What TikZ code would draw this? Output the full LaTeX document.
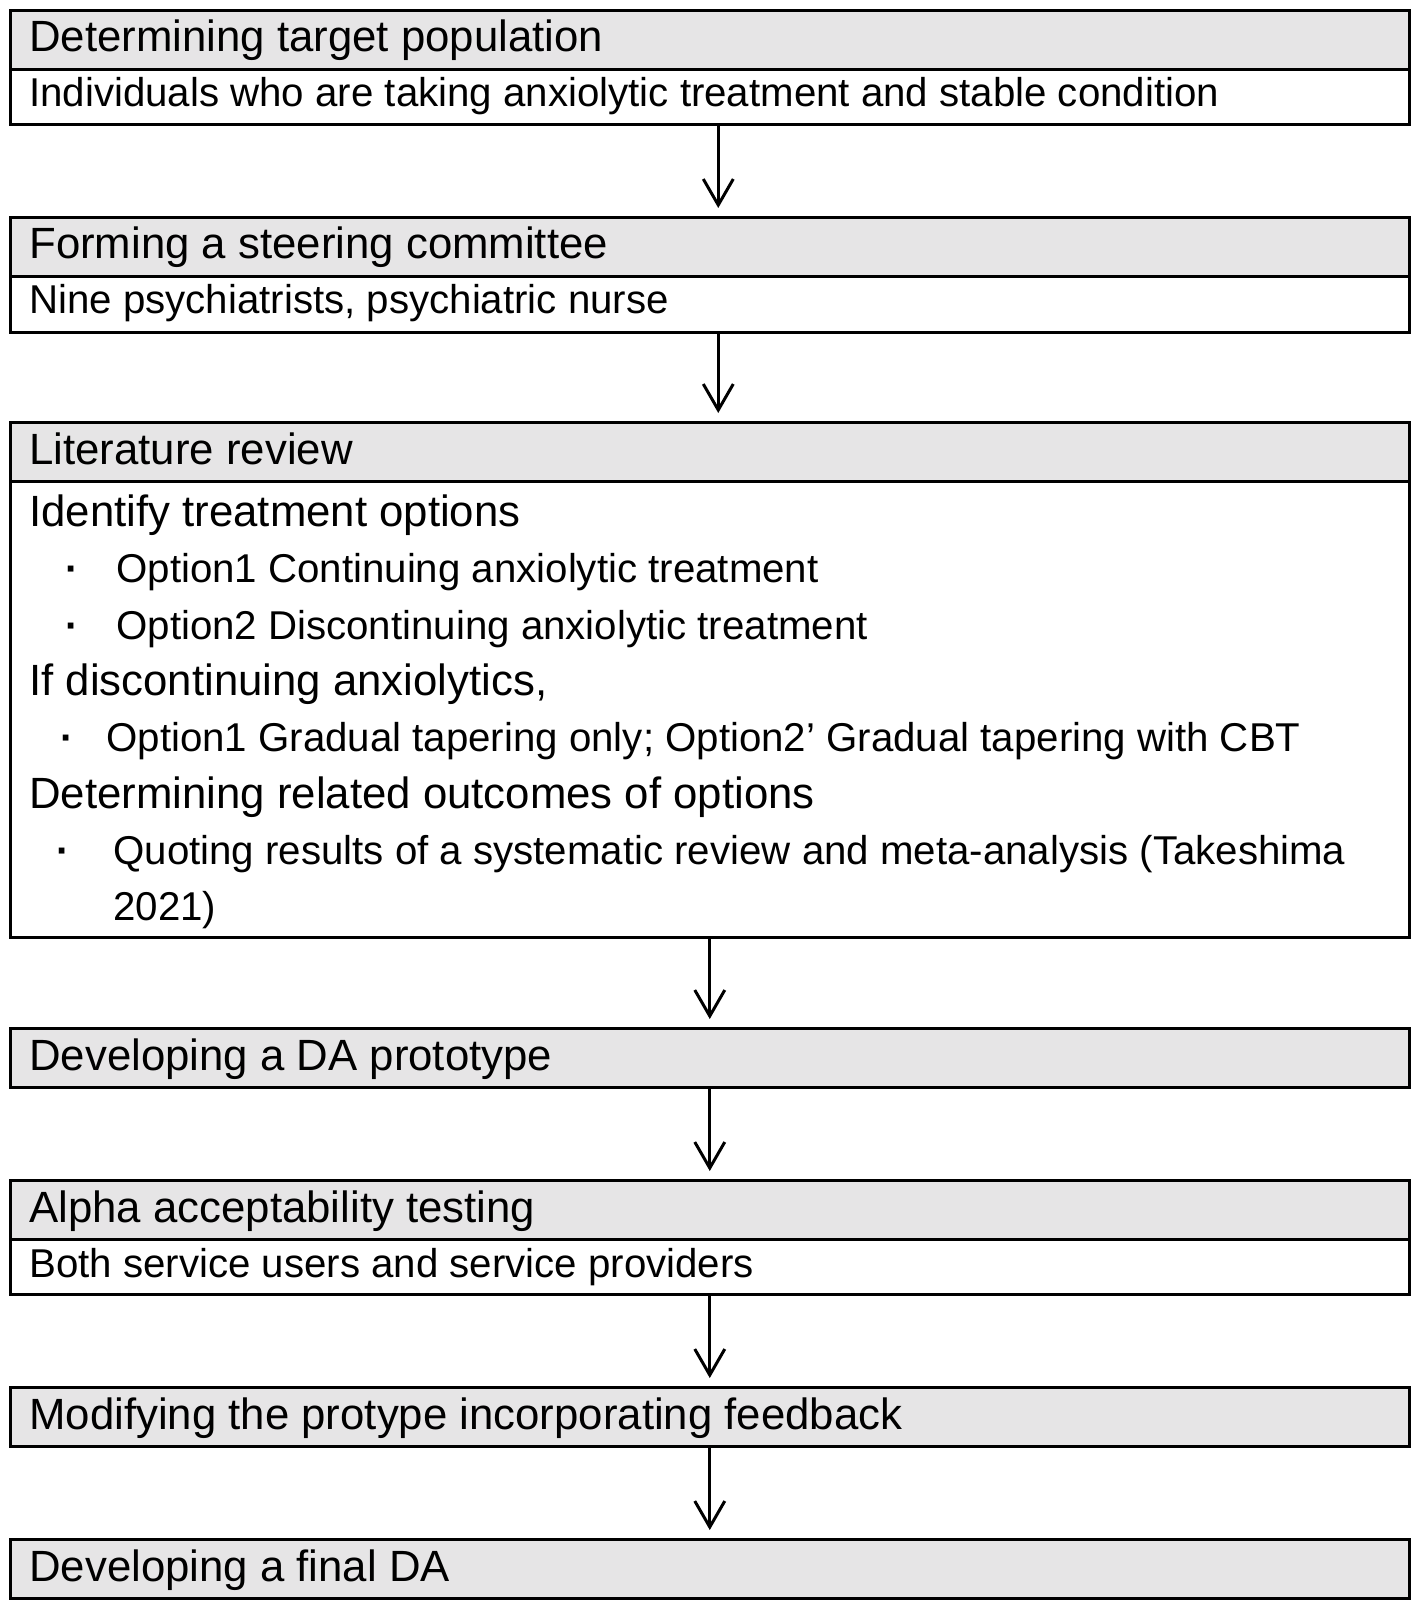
\documentclass[tikz,border=0pt]{standalone}
\usepackage{fontspec}
\setmainfont{Liberation Sans}
\usetikzlibrary{arrows.meta}
\definecolor{headgray}{RGB}{230,229,230}
\begin{document}
\begin{tikzpicture}[x=0.02cm,y=-0.02cm,
  head/.style={draw,line width=1.6pt,fill=headgray,anchor=north west,inner sep=0pt,minimum width=27.98cm,minimum height=1.18cm},
  body/.style={draw,line width=1.6pt,anchor=north west,inner sep=0pt,minimum width=27.98cm,minimum height=#1},
  body/.default=1.1cm,
  title/.style={anchor=base west,inner sep=0pt,font=\fontsize{24.9}{30}\selectfont},
  line/.style={anchor=base west,inner sep=0pt,font=\fontsize{22.9}{28}\selectfont},
  flow/.style={-{Straight Barb[length=0.52cm,width=0.6cm]},line width=1.7pt,shorten >=0.16cm}]
 \useasboundingbox (0,0) rectangle (1418,1611);
 % target population
 \node[head] (h1) at (9,9) {};
 \node[body] (b1) at (9,68) {};
 \node[title] (t1) at (29,52) {Determining target population};
 \node[line] (s1) at (29,107) {Individuals who are taking anxiolytic treatment and stable condition};
 % steering committee
 \node[head] (h2) at (9,216) {};
 \node[body=1.12cm] (b2) at (9,275) {};
 \node[title] (t2) at (29,259) {Forming a steering committee};
 \node[line] (s2) at (29,314) {Nine psychiatrists, psychiatric nurse};
 % literature review
 \node[head] (h3) at (9,421) {};
 \node[body=9.12cm] (b3) at (9,480) {};
 \node[title] (t3) at (29,464) {Literature review};
 \node[title] (l1) at (29,526) {Identify treatment options};
 \node[line] (d1) at (65,582) {\textbf{·}};
 \node[line] (o1) at (116,582) {Option1 Continuing anxiolytic treatment};
 \node[line] (d2) at (65,639) {\textbf{·}};
 \node[line] (o2) at (116,639) {Option2 Discontinuing anxiolytic treatment};
 \node[title] (l2) at (29,695) {If discontinuing anxiolytics,};
 \node[line] (d3) at (60,751) {\textbf{·}};
 \node[line] (o3) at (106,751) {Option1 Gradual tapering only; Option2’ Gradual tapering with CBT};
 \node[title] (l3) at (29,808) {Determining related outcomes of options};
 \node[line] (d4) at (56,864) {\textbf{·}};
 \node[line] (o4) at (113,864) {Quoting results of a systematic review and meta-analysis (Takeshima};
 \node[line] (o5) at (113,920) {2021)};
 % prototype
 \node[head] (h4) at (9,1027) {};
 \node[title] (t4) at (29,1070) {Developing a DA prototype};
 % alpha testing
 \node[head] (h5) at (9,1179) {};
 \node[body] (b5) at (9,1238) {};
 \node[title] (t5) at (29,1222) {Alpha acceptability testing};
 \node[line] (s5) at (29,1277) {Both service users and service providers};
 % modifying
 \node[head] (h6) at (9,1386) {};
 \node[title] (t6) at (29,1429) {Modifying the protype incorporating feedback};
 % final
 \node[head] (h7) at (9,1538) {};
 \node[title] (t7) at (29,1581) {Developing a final DA};
 % arrows
 \draw[flow] ([xshift=0.17cm]b1.south) -- ([xshift=0.17cm]h2.north);
 \draw[flow] ([xshift=0.17cm]b2.south) -- ([xshift=0.17cm]h3.north);
 \draw[flow] (b3.south) -- (h4.north);
 \draw[flow] (h4.south) -- (h5.north);
 \draw[flow] (b5.south) -- (h6.north);
 \draw[flow] (h6.south) -- (h7.north);
\end{tikzpicture}
\end{document}
